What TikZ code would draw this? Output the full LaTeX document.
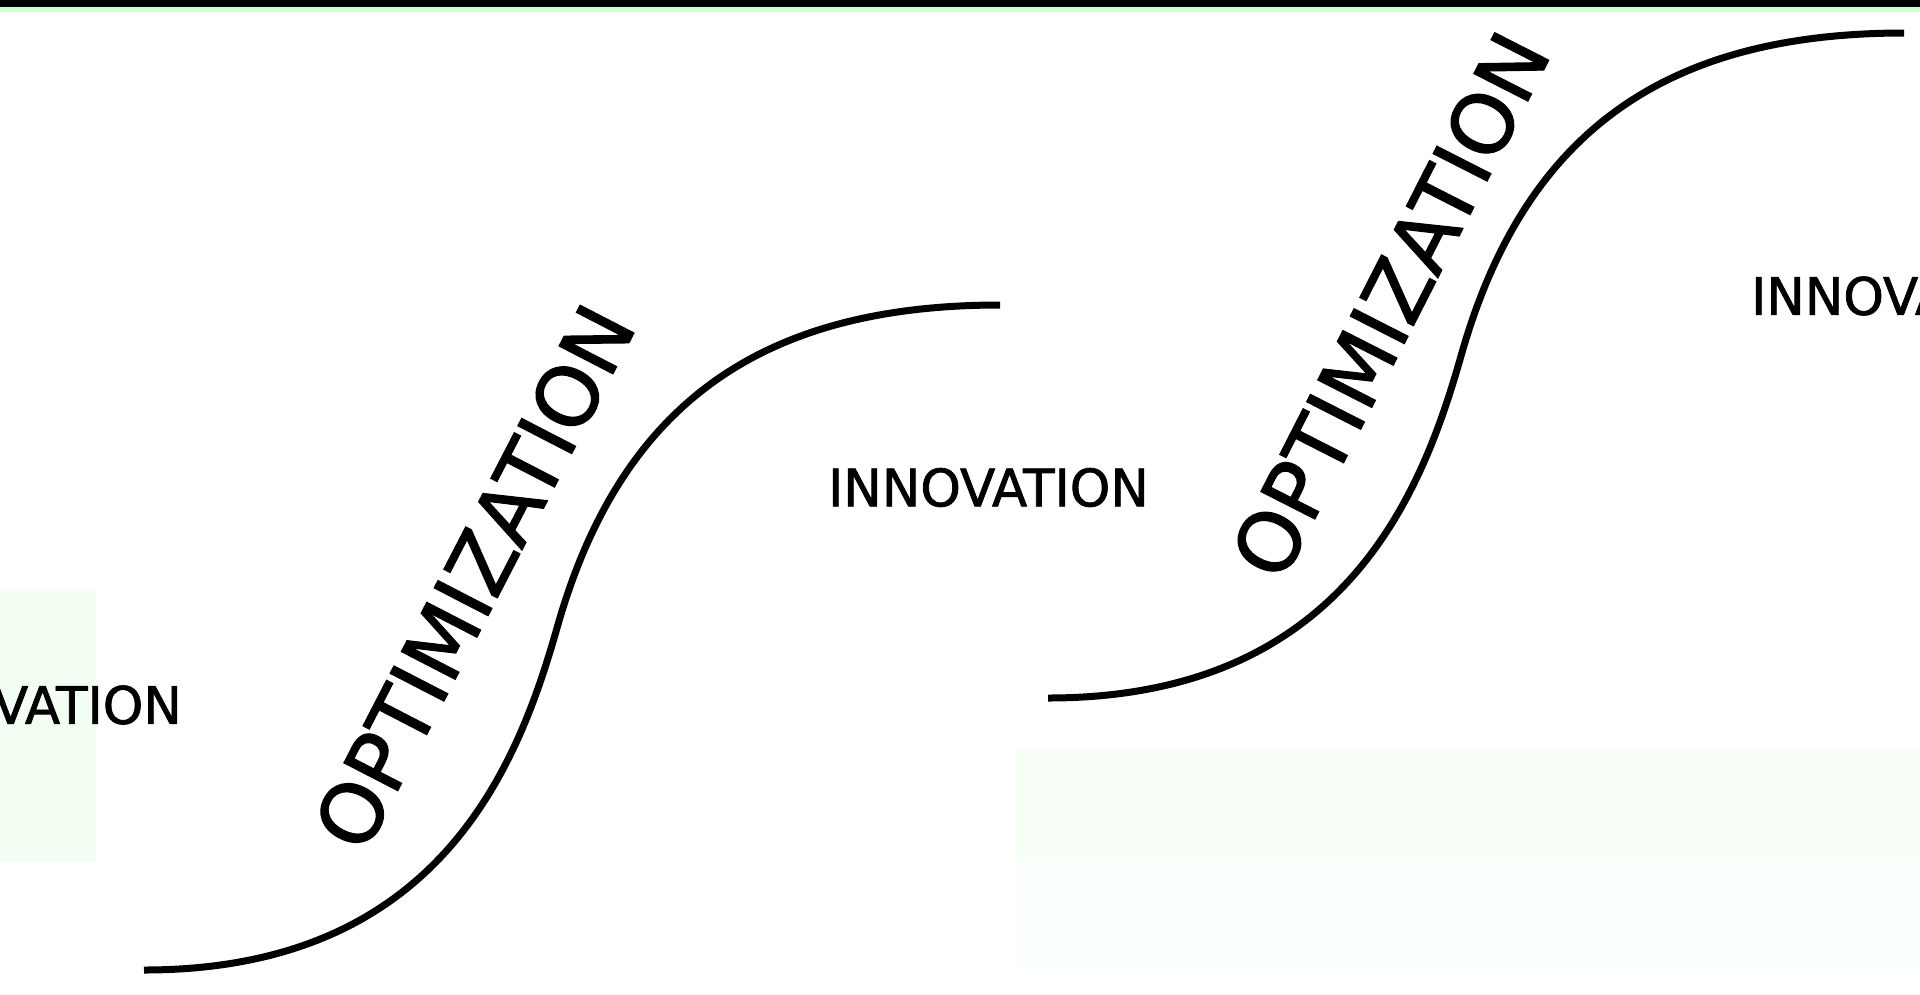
\documentclass[tikz,border=0pt]{standalone}
\usepackage{fontspec}
\setmainfont{DejaVu Sans}
\newfontfamily\heavyfont{DejaVu Sans}[FakeBold=1.5]
\definecolor{bandgreen}{RGB}{210,255,210}
\definecolor{tintA}{RGB}{244,255,244}
\definecolor{tintB}{RGB}{247,255,247}
\definecolor{tintC}{RGB}{251,255,251}
\begin{document}
\begin{tikzpicture}[x=1pt,y=-1pt,
  scurve/.style={line width=7pt,black,line cap=butt},
  innov/.style={inner sep=0pt,font=\heavyfont\fontsize{51.5}{60}\selectfont},
  optim/.style={inner sep=0pt,font=\heavyfont\fontsize{83}{96}\selectfont}]
\useasboundingbox (0,0) rectangle (1920,994);
\fill[white] (0,0) rectangle (1920,994);
% faint background tints
\fill[tintA] (0,590) rectangle (96,862);
\fill[tintB] (1016,748) rectangle (1920,862);
\fill[tintC] (1016,862) rectangle (1920,970);
% top bands
\fill[black] (0,0) rectangle (1920,7);
\fill[bandgreen] (0,7) rectangle (1920,12);
% S-curves
\coordinate (s1a) at (144,970);
\coordinate (s1m) at (557,628);
\coordinate (s1b) at (1000,305);
\draw[scurve] (s1a) .. controls (440,970) and (518,765) .. (s1m)
  .. controls (620,405) and (760,305) .. (s1b);
\begin{scope}[shift={(904,-272)}]
\coordinate (s2a) at (144,970);
\coordinate (s2m) at (557,628);
\coordinate (s2b) at (1000,305);
\draw[scurve] (s2a) .. controls (440,970) and (518,765) .. (s2m)
  .. controls (620,405) and (760,305) .. (s2b);
\end{scope}
% labels
\node[optim,rotate=62.7] (opt1) at (474,577) {OPTIMIZATION};
\node[optim,rotate=63] (opt2) at (1390,305) {OPTIMIZATION};
\node[innov] (inn0) at (21.5,705) {INNOVATION};
\node[innov] (inn1) at (988.5,487.5) {INNOVATION};
\node[innov] (inn2) at (1911.5,296) {INNOVATION};
\end{tikzpicture}
\end{document}
